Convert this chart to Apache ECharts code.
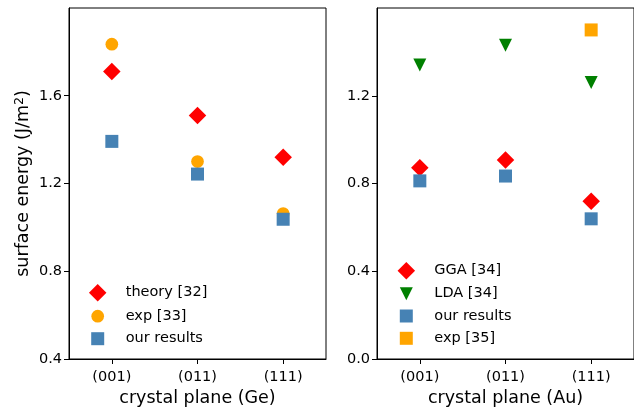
<!DOCTYPE html>
<html>
<head>
<meta charset="utf-8">
<script src="https://cdn.jsdelivr.net/npm/echarts@6/dist/echarts.min.js"></script>
<style>
  html, body { margin: 0; padding: 0; background: #fff; }
  #chart { width: 634px; height: 407px; }
</style>
</head>
<body>
<div id="chart"></div>
<script>
// ---- data ----
const planes = ['(001)', '(011)', '(111)'];
const geTheory = [1.71, 1.51, 1.32];
const geExp = [1.835, 1.30, 1.063];
const geOurs = [1.392, 1.243, 1.037];
const auGGA = [0.872, 0.907, 0.719];
const auLDA = [1.34, 1.43, 1.26];
const auOurs = [0.812, 0.834, 0.639];
const auExp = [null, null, 1.50];
const geTicks = [0.4, 0.8, 1.2, 1.6];
const auTicks = [0.0, 0.4, 0.8, 1.2];

// ---- styles ----
const FONT = 'DejaVu Sans';
const RED = '#ff0000', ORANGE = '#ffa500', BLUE = '#4682b4', GREEN = '#008000';
const DIAMOND = 'path://M1,0L2,1L1,2L0,1Z';
const TRI_DOWN = 'path://M0,0L2,0L1,2Z';
const SQUARE = 'path://M0,0L2,0L2,2L0,2Z';

function pts(arr) {
  const out = [];
  arr.forEach((v, i) => { if (v !== null) out.push([planes[i], v]); });
  return out;
}

const chart = echarts.init(document.getElementById('chart'), null, { renderer: 'canvas' });

const axisCommon = {
  axisLine: { show: true, lineStyle: { color: '#000', width: 1 } },
  axisTick: { show: true, length: 5, lineStyle: { color: '#000', width: 1 } },
  splitLine: { show: false },
};

function xAxis(idx, name) {
  return Object.assign({}, axisCommon, {
    type: 'category', gridIndex: idx, data: planes, boundaryGap: true,
    axisTick: { show: true, alignWithLabel: true, length: 5, lineStyle: { color: '#000', width: 1 } },
    axisLabel: { color: '#000', fontFamily: FONT, fontSize: 14.5, margin: 11 },
    name: name, nameLocation: 'middle', nameGap: 30,
    nameTextStyle: { color: '#000', fontFamily: FONT, fontSize: 17.5 }
  });
}
function yAxis(idx, min, max, ticks, name) {
  const a = Object.assign({}, axisCommon, {
    type: 'value', gridIndex: idx, min: min, max: max, interval: 0.4,
    axisTick: { show: true, length: 5, customValues: ticks, lineStyle: { color: '#000', width: 1 } },
    axisLabel: { color: '#000', fontFamily: FONT, fontSize: 14.5, margin: 7,
      customValues: ticks, formatter: v => v.toFixed(1) }
  });
  if (name) {
    a.name = name;
    a.nameLocation = 'middle';
    a.nameGap = 35;
    a.nameTextStyle = { color: '#000', fontFamily: FONT, fontSize: 17.5,
      rich: { s: { fontSize: 12.5, verticalAlign: 'top', padding: [0, 0, 8, 0], color: '#000', fontFamily: FONT } } };
  }
  return a;
}

function legendItem(name, cx, cy, size) {
  const W = 46;
  return {
    show: true, orient: 'vertical', selectedMode: false, padding: 0,
    left: cx - size / 2, top: cy - size / 2,
    itemWidth: W, itemHeight: size, symbolKeepAspect: true,
    data: [name],
    textStyle: { color: '#000', fontFamily: FONT, fontSize: 14.5 }
  };
}

const gridCommon = { show: true, borderColor: '#000', borderWidth: 1, backgroundColor: 'transparent',
  containLabel: false, outerBoundsMode: 'none' };

const option = {
  backgroundColor: '#fff',
  animation: false,
  grid: [
    Object.assign({ left: 69, top: 8, width: 257, height: 351 }, gridCommon),
    Object.assign({ left: 377, top: 8, width: 257, height: 351 }, gridCommon)
  ],
  xAxis: [xAxis(0, 'crystal plane (Ge)'), xAxis(1, 'crystal plane (Au)')],
  yAxis: [
    yAxis(0, 0.4, 2.0, geTicks, 'surface energy (J/m{s|2})'),
    yAxis(1, 0.0, 1.6, auTicks, null)
  ],
  legend: [
    legendItem('theory [32]', 97.7, 292.7, 17.5),
    legendItem('exp [33]', 97.7, 315, 12.7),
    legendItem('our results', 97.7, 337.7, 13),
    legendItem('GGA [34]', 406.3, 270.7, 17.5),
    legendItem('LDA [34]', 406.3, 292.7, 13),
    legendItem('our results', 406.3, 315, 13),
    legendItem('exp [35]', 406.3, 337.3, 13)
  ],
  series: [
    { type: 'scatter', name: 'theory [32]', xAxisIndex: 0, yAxisIndex: 0, symbol: DIAMOND, symbolSize: 17.5, itemStyle: { color: RED, opacity: 1 }, data: pts(geTheory) },
    { type: 'scatter', name: 'exp [33]', xAxisIndex: 0, yAxisIndex: 0, symbol: 'circle', symbolSize: 12.7, itemStyle: { color: ORANGE, opacity: 1 }, data: pts(geExp) },
    { type: 'scatter', name: 'our results', xAxisIndex: 0, yAxisIndex: 0, symbol: SQUARE, symbolSize: 13, itemStyle: { color: BLUE, opacity: 1 }, data: pts(geOurs) },
    { type: 'scatter', name: 'GGA [34]', xAxisIndex: 1, yAxisIndex: 1, symbol: DIAMOND, symbolSize: 17.5, itemStyle: { color: RED, opacity: 1 }, data: pts(auGGA) },
    { type: 'scatter', name: 'LDA [34]', xAxisIndex: 1, yAxisIndex: 1, symbol: TRI_DOWN, symbolSize: 13, itemStyle: { color: GREEN, opacity: 1 }, data: pts(auLDA) },
    { type: 'scatter', name: 'our results', xAxisIndex: 1, yAxisIndex: 1, symbol: SQUARE, symbolSize: 13, itemStyle: { color: BLUE, opacity: 1 }, data: pts(auOurs) },
    { type: 'scatter', name: 'exp [35]', xAxisIndex: 1, yAxisIndex: 1, symbol: SQUARE, symbolSize: 13, itemStyle: { color: ORANGE, opacity: 1 }, data: pts(auExp) }
  ]
};
chart.setOption(option);
</script>
</body>
</html>
